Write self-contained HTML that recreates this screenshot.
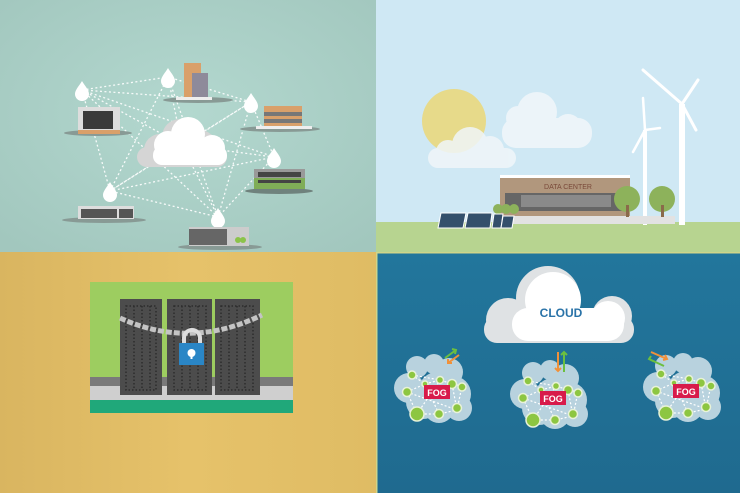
<!DOCTYPE html>
<html><head><meta charset="utf-8"><style>html,body{margin:0;padding:0;background:#fff}svg{display:block}</style></head>
<body>
<svg width="740" height="493" viewBox="0 0 740 493" xmlns="http://www.w3.org/2000/svg" font-family="Liberation Sans, sans-serif">
<defs>
<radialGradient id="tl" cx="0.5" cy="0.45" r="0.7"><stop offset="0" stop-color="#b3d8cf"/><stop offset="1" stop-color="#a2c7be"/></radialGradient>
<linearGradient id="bl" x1="0" x2="1"><stop offset="0" stop-color="#d9b560"/><stop offset="0.5" stop-color="#e6c26a"/><stop offset="1" stop-color="#dfbc64"/></linearGradient>
<linearGradient id="br" x1="0" y1="0" x2="0" y2="1"><stop offset="0" stop-color="#22769c"/><stop offset="1" stop-color="#1f6a8f"/></linearGradient>
<g id="drop"><path d="M0,-9 C3,-4 7,0 7,4 A7,7 0 0 1 -7,4 C-7,0 -3,-4 0,-9Z" fill="#fff"/></g>
<g id="fog">
 <g fill="#b8d2de">
  <circle cx="-20" cy="-25" r="11"/><circle cx="-3" cy="-28" r="10"/><circle cx="12" cy="-20" r="14"/><circle cx="-28" cy="-4" r="15"/>
  <circle cx="16" cy="2" r="18"/><circle cx="-14" cy="10" r="17"/><circle cx="2" cy="16" r="15"/><circle cx="22" cy="16" r="13"/><circle cx="0" cy="-2" r="18"/>
 </g>
 <g stroke="#fff" stroke-width="1.2" stroke-dasharray="2,2" fill="none">
  <path d="M-25,-17 L-12,-8 L3,-12 L15,-8 L25,-6 M-30,0 L-12,-8 M-30,0 L-20,22 L2,22 L20,18 L25,-6 M-25,-17 L3,-12 M2,22 L-12,-8 M20,18 L15,-8 M-20,22 L3,-12 M-30,0 L20,18"/>
 </g>
 <g fill="#8dc641" stroke="#e8f2d8" stroke-width="1.5">
  <circle cx="-25" cy="-17" r="4"/><circle cx="-30" cy="0" r="4.5"/><circle cx="-12" cy="-8" r="3"/><circle cx="3" cy="-12" r="3.5"/>
  <circle cx="15" cy="-8" r="4.5"/><circle cx="25" cy="-5" r="4"/><circle cx="-20" cy="22" r="7"/><circle cx="2" cy="22" r="4.5"/><circle cx="20" cy="16" r="4.5"/>
 </g>
 <rect x="-13" y="-7" width="26" height="14" fill="#d81b4a"/>
 <text x="0" y="4" font-size="9" font-weight="bold" fill="#fff" text-anchor="middle">FOG</text>
</g>
</defs>

<!-- TL -->
<rect x="0" y="0" width="376" height="252" fill="url(#tl)"/>
<g stroke="#fff" stroke-width="1.3" stroke-dasharray="2,2.5" fill="none" opacity="0.9">
 <path d="M82,90 L168,77 L251,102 L274,157 L218,217 L110,191 L82,90 M82,90 L251,102 M82,90 L274,157 M82,90 L218,217 M168,77 L110,191 M168,77 L218,217 M168,77 L182,145 M251,102 L110,191 M251,102 L218,217 M274,157 L110,191 M274,157 L182,145 M110,191 L182,145 M218,217 L182,145 M82,90 L182,145 M182,145 L251,102"/>
</g>
<g fill="#d5d5d5"><circle cx="160" cy="150" r="16"/><circle cx="180" cy="137" r="18"/><circle cx="200" cy="146" r="16"/><rect x="137" y="147" width="90" height="20" rx="10"/></g>
<g fill="#fff"><circle cx="168" cy="145" r="14"/><circle cx="188" cy="134" r="17"/><circle cx="212" cy="148" r="13"/><rect x="153" y="146" width="74" height="19" rx="9"/></g>
<use href="#drop" x="82" y="90"/><use href="#drop" x="168" y="77"/><use href="#drop" x="251" y="102"/><use href="#drop" x="274" y="157"/><use href="#drop" x="110" y="191"/><use href="#drop" x="218" y="217"/>
<!-- buildings -->
<ellipse cx="98" cy="133" rx="34" ry="3" fill="#889a95"/>
<rect x="78" y="107" width="42" height="24" fill="#ddd"/><rect x="83" y="111" width="30" height="18" fill="#3a3a3a"/><rect x="78" y="130" width="42" height="4" fill="#d9a06a"/>
<ellipse cx="198" cy="100" rx="35" ry="3" fill="#889a95"/>
<rect x="184" y="63" width="17" height="34" fill="#d9a06a"/><rect x="192" y="73" width="16" height="25" fill="#8e8a9a"/><rect x="176" y="97" width="36" height="3" fill="#eee"/>
<ellipse cx="280" cy="129" rx="40" ry="3" fill="#889a95"/>
<rect x="264" y="106" width="38" height="20" fill="#d9a06a"/><rect x="264" y="112" width="38" height="4" fill="#777"/><rect x="264" y="119" width="38" height="4" fill="#777"/><rect x="256" y="126" width="56" height="3" fill="#eee"/>
<ellipse cx="279" cy="191" rx="34" ry="3" fill="#6f827d"/>
<rect x="254" y="169" width="51" height="20" fill="#999"/><rect x="254" y="178" width="51" height="11" fill="#7fad57"/><rect x="258" y="172" width="43" height="5" fill="#444"/><rect x="258" y="180" width="43" height="3" fill="#444"/>
<ellipse cx="104" cy="220" rx="42" ry="3" fill="#889a95"/>
<rect x="78" y="206" width="56" height="13" fill="#ddd"/><rect x="81" y="209" width="36" height="9" fill="#555"/><rect x="119" y="209" width="14" height="9" fill="#555"/>
<ellipse cx="220" cy="247" rx="42" ry="3" fill="#889a95"/>
<rect x="189" y="227" width="60" height="19" fill="#ccc"/><rect x="189" y="229" width="38" height="16" fill="#666"/><circle cx="238" cy="240" r="3" fill="#8bc34a"/><circle cx="243" cy="240" r="3" fill="#8bc34a"/>

<!-- TR -->
<rect x="376" y="0" width="364" height="224" fill="#cfe8f4"/>
<rect x="376" y="222" width="364" height="30" fill="#b7d490"/>
<circle cx="454" cy="121" r="32" fill="#e7da8a"/>
<g fill="#f0f6f9" opacity="0.85"><circle cx="470" cy="145" r="18"/><circle cx="490" cy="150" r="14"/><rect x="428" y="148" width="88" height="20" rx="10"/><circle cx="448" cy="152" r="12"/></g>
<g fill="#f0f6fa" opacity="0.9"><circle cx="537" cy="112" r="20"/><circle cx="518" cy="118" r="12"/><circle cx="568" cy="128" r="14"/><rect x="502" y="118" width="90" height="30" rx="14"/></g>
<g stroke="#fff" stroke-linecap="round" fill="#fff">
 <rect x="643" y="130" width="4" height="95" stroke="none"/><path d="M645,130 L633,152 M645,130 L660,128 M645,130 L643,98" stroke-width="2.5"/>
 <rect x="679" y="104" width="6" height="121" stroke="none"/><path d="M682,104 L643,70 M682,104 L698,80 M682,104 L696,130" stroke-width="3"/>
</g>
<rect x="500" y="176" width="130" height="40" fill="#b1977d"/><rect x="500" y="175" width="130" height="3" fill="#fff"/>
<rect x="505" y="193" width="120" height="18" fill="#666"/><rect x="521" y="195" width="90" height="12" fill="#8a8a8a"/>
<text x="568" y="189" font-size="7" fill="#7a4a3a" text-anchor="middle">DATA CENTER</text>
<rect x="505" y="216" width="170" height="8" fill="#e2e2e2"/>
<circle cx="627" cy="199" r="13" fill="#8db25b"/><rect x="626" y="205" width="3" height="12" fill="#8a6a4a"/>
<circle cx="662" cy="199" r="13" fill="#8db25b"/><rect x="661" y="205" width="3" height="12" fill="#8a6a4a"/>
<circle cx="498" cy="209" r="5" fill="#8db25b"/><circle cx="506" cy="209" r="5" fill="#8db25b"/><circle cx="514" cy="209" r="5" fill="#8db25b"/>
<g fill="#34506b" stroke="#fff" stroke-width="1"><polygon points="441,213 466,213 463,228 438,228"/><polygon points="468,213 492,213 490,228 465,228"/><polygon points="494,214 503,214 501,228 492,228"/><polygon points="503,216 514,216 512,228 501,228"/></g>

<!-- BL -->
<rect x="0" y="252" width="376" height="241" fill="url(#bl)"/>
<rect x="90" y="282" width="203" height="131" fill="#9dcd60"/>
<rect x="90" y="377" width="203" height="9" fill="#7a7a7a"/><rect x="90" y="386" width="203" height="14" fill="#cfcfcf"/>
<rect x="90" y="400" width="203" height="13" fill="#20a87a"/>
<g fill="#4c4c4c"><rect x="120" y="299" width="42" height="96"/><rect x="167" y="299" width="45" height="96"/><rect x="215" y="299" width="45" height="96"/></g>
<g fill="none" stroke="#2c2c2c" stroke-width="1.5" stroke-dasharray="1.5,2"><rect x="126" y="306" width="30" height="84"/><rect x="174" y="306" width="32" height="84"/><rect x="221" y="306" width="32" height="84"/>
<path d="M134,306 V390 M142,306 V390 M150,306 V390 M182,306 V390 M190,306 V390 M198,306 V390 M229,306 V390 M237,306 V390 M245,306 V390"/></g>
<path d="M120,318 Q190,350 262,315" fill="none" stroke="#c4c4c4" stroke-width="5" stroke-dasharray="6,2"/>
<path d="M184,343 V338 A8,8 0 0 1 200,338 V343" fill="none" stroke="#ddd" stroke-width="4"/>
<rect x="179" y="343" width="25" height="22" fill="#2a86c6"/><circle cx="191.5" cy="353" r="4" fill="#fff"/><rect x="190.5" y="354" width="2" height="5" fill="#fff"/>

<!-- BR -->
<rect x="376" y="252" width="364" height="241" fill="url(#br)"/>
<rect x="376" y="252" width="364" height="1.5" fill="#cfd58a"/>
<rect x="376" y="252" width="1.5" height="241" fill="#cfd58a"/>
<g fill="#dfe2e4"><circle cx="548" cy="298" r="32"/><circle cx="508" cy="320" r="22"/><circle cx="612" cy="316" r="20"/><rect x="484" y="316" width="150" height="27" rx="13"/></g>
<g fill="#fff"><circle cx="553" cy="300" r="28"/><circle cx="608" cy="318" r="17"/><rect x="512" y="308" width="112" height="33" rx="16"/></g>
<text x="561" y="317" font-size="12" font-weight="bold" fill="#2a73a8" text-anchor="middle">CLOUD</text>
<use href="#fog" x="437" y="392"/><use href="#fog" x="553" y="398"/><use href="#fog" x="686" y="391"/>
<g stroke-width="2" fill="none">
 <path d="M445,358 L456,350 M452,349 L456,350 L455,354" stroke="#6cbf3f"/><path d="M459,355 L448,363 M448,359 L448,363 L452,363" stroke="#f0913a"/>
 <path d="M558,352 V371 M555,368 L558,371 L561,368" stroke="#f0913a"/><path d="M564,372 V352 M561,355 L564,352 L567,355" stroke="#6cbf3f"/>
 <path d="M651,352 L667,359 M663,360 L667,359 L665,355" stroke="#f0913a"/><path d="M664,366 L649,359 M651,356 L649,359 L653,361" stroke="#6cbf3f"/>
</g>
</svg>
</body></html>
